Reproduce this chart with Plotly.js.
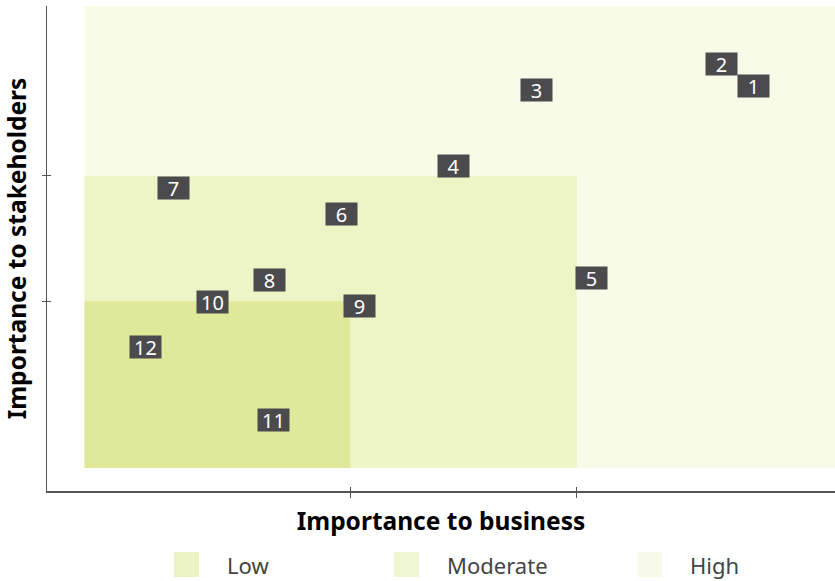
<!DOCTYPE html>
<html>
<head>
<meta charset="utf-8">
<script src="https://cdn.plot.ly/plotly-3.0.1.min.js"></script>
<style>html,body{margin:0;padding:0;background:#fff;}#chart{width:835px;height:581px;}</style>
</head>
<body>
<div id="chart"></div>
<script>
// Issue labels and their positions (importance to business, importance to stakeholders)
const labels = ["1","2","3","4","5","6","7","8","9","10","11","12"];
const business = [8.92, 8.49, 6.02, 4.92, 6.75, 3.42, 1.18, 2.46, 3.67, 1.70, 2.52, 0.81];
const stakeholders = [8.27, 8.74, 8.18, 6.54, 4.11, 5.50, 6.06, 4.07, 3.50, 3.59, 1.03, 2.62];

// Materiality zones: [xEnd, yEnd] from origin
const zoneNames = ["High", "Moderate", "Low"];
const zoneXEnd = [10, 6.56, 3.54];
const zoneYEnd = [10, 6.32, 3.61];
const zoneColors = ["#f8fbe8", "#edf4c6", "#dfe999"];
const legendNames = ["Low", "Moderate", "High"];
const legendColors = ["#ebf3c4", "#eff6d2", "#f7fae8"];
const tickX = [3.54, 6.55];
const tickY = [3.61, 6.32];

const font = "'Noto Sans', 'Open Sans', sans-serif";

const shapes = zoneNames.map((n, i) => ({
  type: "rect", xref: "x", yref: "y", layer: "below",
  x0: 0, y0: 0, x1: zoneXEnd[i], y1: zoneYEnd[i],
  fillcolor: zoneColors[i], line: {width: 0}
}));

const annotations = labels.map((t, i) => ({
  x: business[i], y: stakeholders[i], xref: "x", yref: "y",
  text: t, showarrow: false,
  bgcolor: "#4b4b4e", width: 31, height: 22, borderpad: 0,
  font: {family: font, size: 20, color: "#ffffff"}
}));

// Manual legend
const legX = [174, 394, 637];
legendNames.forEach((n, i) => {
  shapes.push({
    type: "rect", xref: "paper", yref: "paper",
    x0: (legX[i] - 47) / 788, x1: (legX[i] + 25 - 47) / 788,
    y0: -(552 - 491) / 485 - 25 / 485, y1: -(552 - 491) / 485,
    fillcolor: legendColors[i], line: {width: 0}
  });
  annotations.push({
    xref: "paper", yref: "paper", x: (legX[i] + 51 - 47) / 788, y: -(565 - 491) / 485,
    xanchor: "left", yanchor: "middle", text: n, showarrow: false,
    font: {family: font, size: 22, color: "#444444"}
  });
});

const data = [{
  x: business, y: stakeholders, mode: "markers", type: "scatter",
  marker: {size: 1, opacity: 0}, hoverinfo: "skip", showlegend: false
}];

const layout = {
  width: 835, height: 581,
  margin: {l: 47, r: 0, t: 6, b: 90},
  paper_bgcolor: "#ffffff", plot_bgcolor: "#ffffff",
  showlegend: false,
  xaxis: {
    range: [-0.5, 10], showgrid: false, zeroline: false,
    showline: true, linecolor: "#555555", linewidth: 1.5,
    ticks: "outside", ticklen: 5, tickwidth: 1, tickcolor: "#555555",
    tickvals: tickX, showticklabels: false,
    title: {text: "<b>Importance to business</b>", standoff: 16,
      font: {family: font, size: 24.5, color: "#000000"}}
  },
  yaxis: {
    range: [-0.5, 10], showgrid: false, zeroline: false,
    showline: true, linecolor: "#555555", linewidth: 1.5,
    ticks: "outside", ticklen: 4, tickwidth: 1, tickcolor: "#555555",
    tickvals: tickY, showticklabels: false,
    title: {text: "<b>Importance to stakeholders</b>", standoff: 10,
      font: {family: font, size: 24.5, color: "#000000"}}
  },
  xaxis2: {overlaying: "x", matches: "x", range: [-0.5, 10], showgrid: false, zeroline: false,
    ticks: "inside", ticklen: 4, tickwidth: 1, tickcolor: "#555555", tickvals: tickX, showticklabels: false, anchor: "y"},
  yaxis2: {overlaying: "y", matches: "y", range: [-0.5, 10], showgrid: false, zeroline: false,
    ticks: "inside", ticklen: 4, tickwidth: 1, tickcolor: "#555555", tickvals: tickY, showticklabels: false, anchor: "x"},
  shapes: shapes,
  annotations: annotations
};

data.push({x: [0], y: [0], xaxis: "x2", yaxis: "y2", mode: "markers", marker: {opacity: 0}, hoverinfo: "skip", showlegend: false});

Plotly.newPlot("chart", data, layout, {displayModeBar: false, staticPlot: true});
</script>
</body>
</html>
